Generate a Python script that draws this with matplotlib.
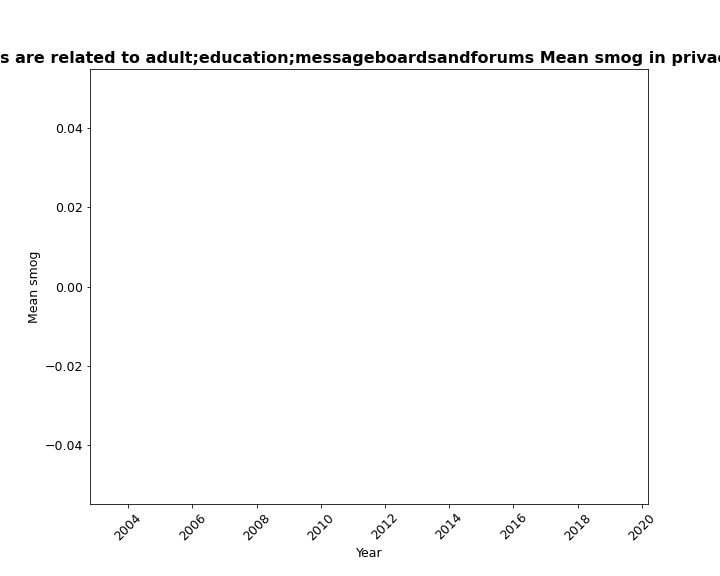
import matplotlib
matplotlib.use("Agg")
import matplotlib.pyplot as plt

plt.rcParams['font.family'] = ['DejaVu Sans']
plt.rcParams['font.size'] = 12.5

# ===================== 数据 =====================
years = [2004, 2005, 2006, 2007, 2008, 2009, 2010, 2011,
         2012, 2013, 2014, 2015, 2016, 2017, 2018, 2019]
mean_smog = [0, 0, 0, 0, 0, 0, 0, 0,
             0, 0, 0, 0, 0, 0, 0, 0]

title = ("Websites are related to adult;education;messageboardsandforums "
         "Mean smog in privacy policies")

fig = plt.figure(figsize=(10, 8), dpi=72)
ax = fig.add_subplot(111)
ax.bar(years, mean_smog)
ax.set_title(title, fontsize=16, fontweight='bold')
ax.set_xlabel('Year')
ax.set_ylabel('Mean smog')
plt.xticks(rotation=45)
plt.subplots_adjust(bottom=0.125)
plt.savefig('out.png', dpi=72)
